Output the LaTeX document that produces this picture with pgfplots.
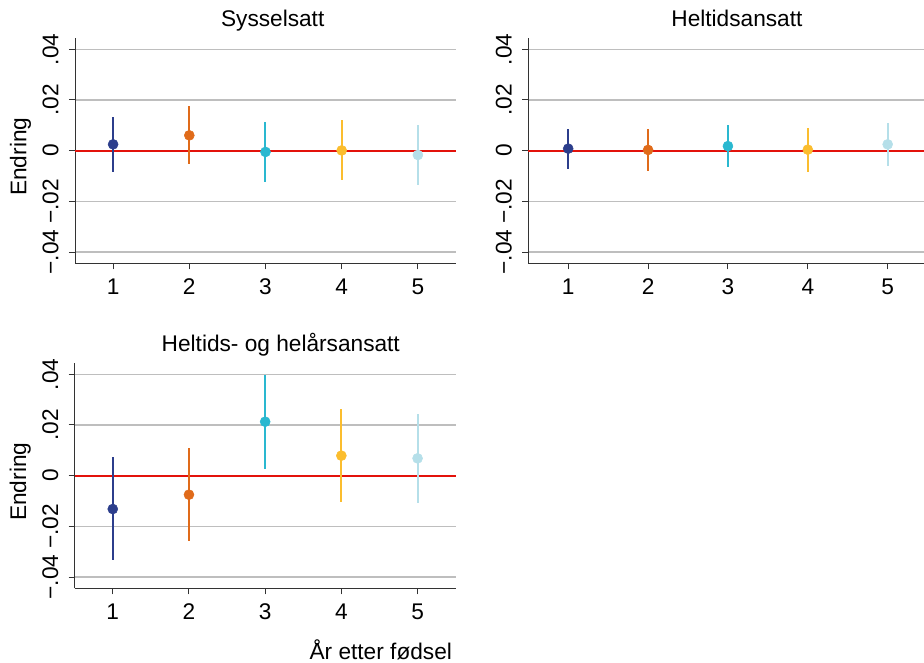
\documentclass[border=0pt]{standalone}
\usepackage{fontspec}
\setmainfont{Liberation Sans}
\usepackage{pgfplots}
\pgfplotsset{compat=1.18}
\definecolor{c1}{HTML}{2C3E8C}
\definecolor{c2}{HTML}{E06B1A}
\definecolor{c3}{HTML}{2AB8D0}
\definecolor{c4}{HTML}{FBBD2E}
\definecolor{c5}{HTML}{B5DFE9}
\definecolor{zred}{HTML}{E3120B}
\definecolor{gridc}{HTML}{BEBEBE}
\definecolor{axc}{HTML}{333333}
\pgfplotsset{
  panel/.style={
    scale only axis,
    width=285.75pt, height=168.75pt,
    xmin=0.5, xmax=5.5,
    ymin=-0.04445, ymax=0.04435,
    scaled y ticks=false,
    axis x line*=bottom, axis y line*=left,
    axis line style={axc, line width=0.75pt},
    xtick={1,2,3,4,5}, xticklabels={1,2,3,4,5},
    ytick={-0.04,-0.02,0,0.02,0.04},
    yticklabels={−.04,−.02,0,.02,.04},
    tick align=outside,
    major tick length=4.5pt,
    every tick/.style={axc, line width=0.75pt},
    ymajorgrids, major grid style={gridc, line width=0.9pt},
    font=\fontsize{17}{20}\selectfont,
    ticklabel style={font=\fontsize{17}{20}\selectfont},
    xticklabel style={anchor=base, yshift=-19pt},
    yticklabel style={xshift=-8pt, anchor=base, rotate=90},
    clip=false,
    title style={anchor=base},
    ylabel style={rotate=0, anchor=base},
  },
  ci/.style={only marks, mark=*, mark size=3.75pt, color=#1,
    mark options={fill=#1, draw=#1},
    error bars/.cd, y dir=both, y explicit, error mark=none,
    error bar style={line width=1.5pt, color=#1}},
}
\begin{document}
\begin{tikzpicture}
\pgfresetboundingbox
% Panel 1
\begin{axis}[panel, at={(56.25pt,299.03pt)}, anchor=south west,
  title={Sysselsatt}, title style={at={(axis description cs:0.5189,1.015)}},
  ylabel={Endring}, ylabel style={at={(axis description cs:-0.1273,0.4733)}}]
\addplot[zred, line width=1.5pt, forget plot] coordinates {(0.5,0) (5.5,0)};
\addplot[ci=c1] coordinates {(1,0.0025) += (0,0.01066) -= (0,0.0108)};
\addplot[ci=c2] coordinates {(2,0.00605) += (0,0.01145) -= (0,0.01145)};
\addplot[ci=c3] coordinates {(3,-0.0005) += (0,0.0118) -= (0,0.0117)};
\addplot[ci=c4] coordinates {(4,0.0001) += (0,0.012) -= (0,0.0117)};
\addplot[ci=c5] coordinates {(5,-0.0017) += (0,0.0118) -= (0,0.012)};
\end{axis}
% Panel 2
\begin{axis}[panel, at={(396.2pt,299.03pt)}, anchor=south west, width=299.5pt,
  title={Heltidsansatt}, title style={at={(axis description cs:0.5225,1.015)}}]
\addplot[zred, line width=1.5pt, forget plot] coordinates {(0.5,0) (5.5,0)};
\addplot[ci=c1] coordinates {(1,0.0008) += (0,0.0078) -= (0,0.0082)};
\addplot[ci=c2] coordinates {(2,0.0003) += (0,0.0083) -= (0,0.0083)};
\addplot[ci=c3] coordinates {(3,0.0018) += (0,0.0083) -= (0,0.0084)};
\addplot[ci=c4] coordinates {(4,0.0004) += (0,0.0087) -= (0,0.0088)};
\addplot[ci=c5] coordinates {(5,0.0025) += (0,0.0086) -= (0,0.0086)};
\end{axis}
% Panel 3
\begin{axis}[panel, at={(56.0pt,55.28pt)}, anchor=south west,
  title={Heltids- og helårsansatt}, title style={at={(axis description cs:0.541,1.017)}},
  ylabel={Endring}, ylabel style={at={(axis description cs:-0.1273,0.4733)}},
  xlabel={År etter fødsel}, xlabel style={at={(axis description cs:1.0026,-0.315)}, anchor=base east}]
\addplot[zred, line width=1.5pt, forget plot] coordinates {(0.5,0) (5.5,0)};
\addplot[ci=c1] coordinates {(1,-0.01316) += (0,0.02053) -= (0,0.02024)};
\addplot[ci=c2] coordinates {(2,-0.0075) += (0,0.0183) -= (0,0.0182)};
\addplot[ci=c3] coordinates {(3,0.0213) += (0,0.0186) -= (0,0.01854)};
\addplot[ci=c4] coordinates {(4,0.0079) += (0,0.0183) -= (0,0.0183)};
\addplot[ci=c5] coordinates {(5,0.00684) += (0,0.01766) -= (0,0.01754)};
\end{axis}
\pgfresetboundingbox
\useasboundingbox (0,0) rectangle (693pt,496.5pt);
\end{tikzpicture}
\end{document}
